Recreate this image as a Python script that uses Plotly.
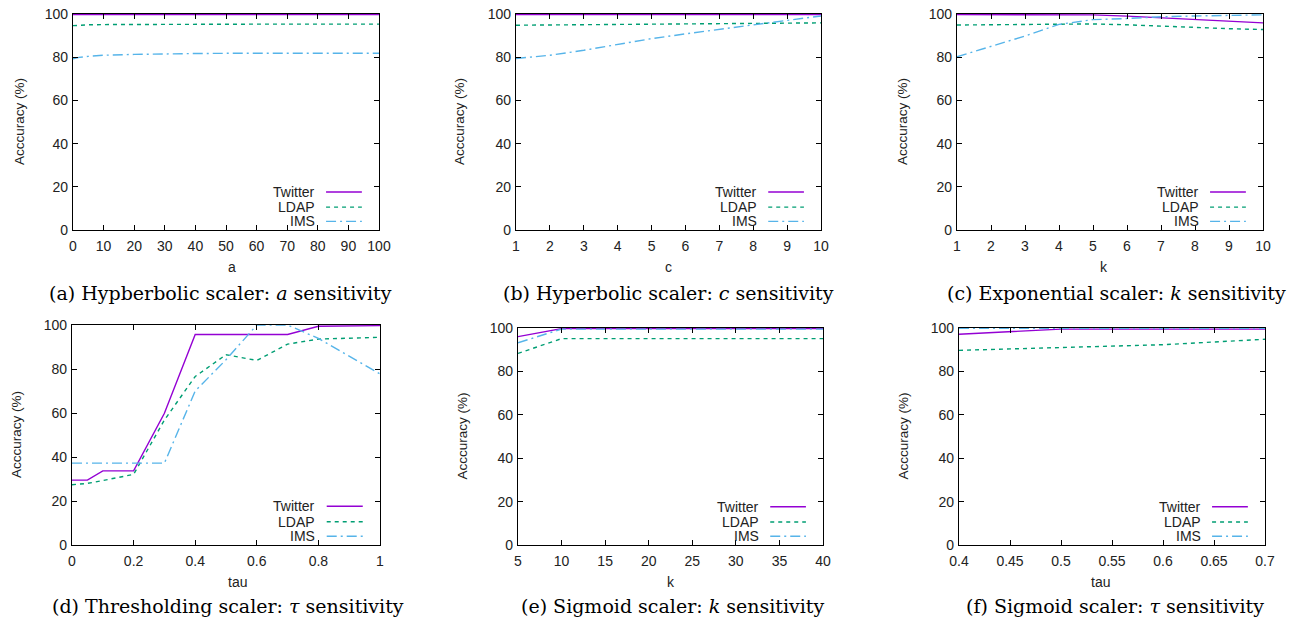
import plotly.graph_objects as go

# ---------------- data ----------------
series_names = ["Twitter", "LDAP", "IMS"]
colors = ["#9400d3", "#009e73", "#56b4e9"]
dashes = ["solid", "4px,4px", "10px,4px,2px,4px"]

# (a) hyperbolic scaler, a
a_x = [0, 2, 5, 10, 20, 30, 40, 50, 60, 70, 80, 90, 100]
a_twitter = [99.7] * 13
a_ldap = [94.6, 94.8, 95.0, 95.1, 95.2, 95.3, 95.3, 95.3, 95.3, 95.3, 95.3, 95.3, 95.3]
a_ims = [79.3, 79.9, 80.4, 80.9, 81.3, 81.6, 81.7, 81.8, 81.8, 81.8, 81.8, 81.8, 81.8]

# (b) hyperbolic scaler, c
b_x = [1, 2, 3, 4, 5, 6, 7, 8, 9, 10]
b_twitter = [99.7] * 10
b_ldap = [94.8, 94.9, 95.1, 95.2, 95.3, 95.4, 95.5, 95.6, 95.8, 95.9]
b_ims = [79.4, 80.9, 83.2, 85.9, 88.6, 90.8, 92.8, 94.8, 97.0, 99.1]

# (c) exponential scaler, k
c_x = [1, 2, 3, 4, 5, 6, 7, 8, 9, 10]
c_twitter = [99.7, 99.7, 99.7, 99.7, 99.6, 99.0, 98.2, 97.3, 96.6, 95.9]
c_ldap = [94.9, 95.0, 95.1, 95.3, 95.4, 95.0, 94.3, 93.6, 93.2, 92.8]
c_ims = [80.2, 84.9, 89.8, 95.2, 97.4, 97.9, 98.7, 99.1, 99.4, 99.6]

# (d) thresholding scaler, tau
d_x = [0, 0.05, 0.1, 0.2, 0.3, 0.4, 0.5, 0.6, 0.7, 0.8, 0.9, 1.0]
d_twitter = [29.5, 29.5, 33.7, 33.7, 59.9, 95.7, 95.7, 95.7, 95.7, 99.4, 99.7, 99.7]
d_ldap = [27.4, 28.0, 29.3, 32.1, 56.8, 76.6, 86.5, 83.9, 91.3, 93.6, 94.0, 94.4]
d_ims = [37.2, 37.2, 37.2, 37.2, 37.2, 70.0, 84.2, 100.0, 100.0, 93.9, 86.0, 77.8]

# (e) sigmoid scaler, k
e_x = [5, 10, 15, 20, 25, 30, 35, 40]
e_twitter = [96.0, 99.7, 99.7, 99.7, 99.7, 99.7, 99.7, 99.7]
e_ldap = [88.3, 95.1, 95.1, 95.1, 95.1, 95.1, 95.1, 95.1]
e_ims = [93.2, 99.5, 99.5, 99.5, 99.5, 99.5, 99.5, 99.5]

# (f) sigmoid scaler, tau
f_x = [0.4, 0.5, 0.6, 0.7]
f_twitter = [97.1, 99.5, 99.5, 99.5]
f_ldap = [89.7, 90.9, 92.3, 94.8]
f_ims = [99.9, 99.9, 99.9, 99.9]

y_ticks = [0, 20, 40, 60, 80, 100]

panels = [
    dict(x=a_x, ys=[a_twitter, a_ldap, a_ims], xlabel="a", xrange=[0, 100], dtick=10,
         caption="(a) Hypberbolic scaler: <i>a</i> sensitivity"),
    dict(x=b_x, ys=[b_twitter, b_ldap, b_ims], xlabel="c", xrange=[1, 10], dtick=1,
         caption="(b) Hyperbolic scaler: <i>c</i> sensitivity"),
    dict(x=c_x, ys=[c_twitter, c_ldap, c_ims], xlabel="k", xrange=[1, 10], dtick=1,
         caption="(c) Exponential scaler: <i>k</i> sensitivity"),
    dict(x=d_x, ys=[d_twitter, d_ldap, d_ims], xlabel="tau", xrange=[0, 1], dtick=0.2,
         caption="(d) Thresholding scaler: <i>τ</i> sensitivity"),
    dict(x=e_x, ys=[e_twitter, e_ldap, e_ims], xlabel="k", xrange=[5, 40], dtick=5,
         caption="(e) Sigmoid scaler: <i>k</i> sensitivity"),
    dict(x=f_x, ys=[f_twitter, f_ldap, f_ims], xlabel="tau", xrange=[0.4, 0.7], dtick=0.05,
         caption="(f) Sigmoid scaler: <i>τ</i> sensitivity"),
]

# ---------------- layout geometry (page pixels) ----------------
W, H = 1297, 622


def px(v):
    return v / W


def py(v):
    return 1 - v / H


# plot boxes (page pixels): left, right, top, bottom
boxes = [
    (73, 379, 14, 230),
    (516, 821, 14, 230),
    (957, 1263, 14, 230),
    (72, 380, 325, 545),
    (518, 823, 328, 545),
    (959, 1265, 328, 545),
]
ytitle_x = [19, 459, 902, 16, 462, 903]
caption_pos = [(220, 293), (668, 293), (1116, 293), (228, 606), (672, 606), (1115, 606)]

fig = go.Figure()
sans = "Liberation Sans, Arial, sans-serif"
serif = "DejaVu Serif, serif"
txt = "#222"

for i, p in enumerate(panels):
    n = i + 1
    xa = "x" if n == 1 else f"x{n}"
    ya = "y" if n == 1 else f"y{n}"
    for name, yv, col, dsh in zip(series_names, p["ys"], colors, dashes):
        fig.add_trace(go.Scatter(x=p["x"], y=yv, mode="lines", name=name,
                                 line=dict(color=col, width=1.4, dash=dsh),
                                 xaxis=xa, yaxis=ya, showlegend=False))
    l, r, t, b = boxes[i]
    axis_common = dict(showgrid=False, zeroline=False, showline=True, linecolor="black",
                       linewidth=1.2, mirror="allticks", ticks="inside", ticklen=5,
                       tickcolor="black", tickwidth=1, automargin=False,
                       tickfont=dict(family=sans, size=14, color=txt))
    fig.layout[f"xaxis{'' if n == 1 else n}"] = dict(
        domain=[px(l), px(r)], range=p["xrange"], tick0=p["xrange"][0], dtick=p["dtick"],
        anchor=ya, ticklabelstandoff=3, **axis_common)
    fig.layout[f"yaxis{'' if n == 1 else n}"] = dict(
        domain=[py(b), py(t)], range=[0, 100], tickvals=y_ticks,
        anchor=xa, ticklabelstandoff=1, **axis_common)

    # x axis title
    fig.add_annotation(text=p["xlabel"], x=px((l + r) / 2), y=py(b + 37),
                       xref="paper", yref="paper", showarrow=False,
                       font=dict(family=sans, size=14, color=txt), yanchor="middle")
    # y axis title
    fig.add_annotation(text="Acccuracy (%)", x=px(ytitle_x[i]), y=py((t + b) / 2),
                       xref="paper", yref="paper", showarrow=False, textangle=-90,
                       font=dict(family=sans, size=13.5, color=txt),
                       xanchor="center", yanchor="middle")
    # caption
    cx, cy = caption_pos[i]
    fig.add_annotation(text=p["caption"], x=px(cx), y=py(cy), xref="paper", yref="paper",
                       showarrow=False, font=dict(family=serif, size=19, color="black"),
                       xanchor="center", yanchor="middle")
    # key (legend) in the gnuplot style: text right-aligned, sample on the right
    for j, (name, col, dsh) in enumerate(zip(series_names, colors, dashes)):
        yy = [0.176, 0.106, 0.040][j]
        fig.add_annotation(text=name, x=0.797, y=yy, xref=f"{xa} domain", yref=f"{ya} domain",
                           showarrow=False, xanchor="right", yanchor="middle",
                           font=dict(family=sans, size=14, color=txt))
        fig.add_shape(type="line", x0=0.827, x1=0.944, y0=yy, y1=yy,
                      xref=f"{xa} domain", yref=f"{ya} domain",
                      line=dict(color=col, width=1.4, dash=dsh))

fig.update_layout(width=W, height=H, margin=dict(l=0, r=0, t=0, b=0),
                  plot_bgcolor="white", paper_bgcolor="white")
# remove the default page margin so the figure fills the browser window exactly
fig.write_html("out.html", config={"displayModeBar": False},
               post_script="document.body.style.margin='0';document.body.style.overflow='hidden';")
